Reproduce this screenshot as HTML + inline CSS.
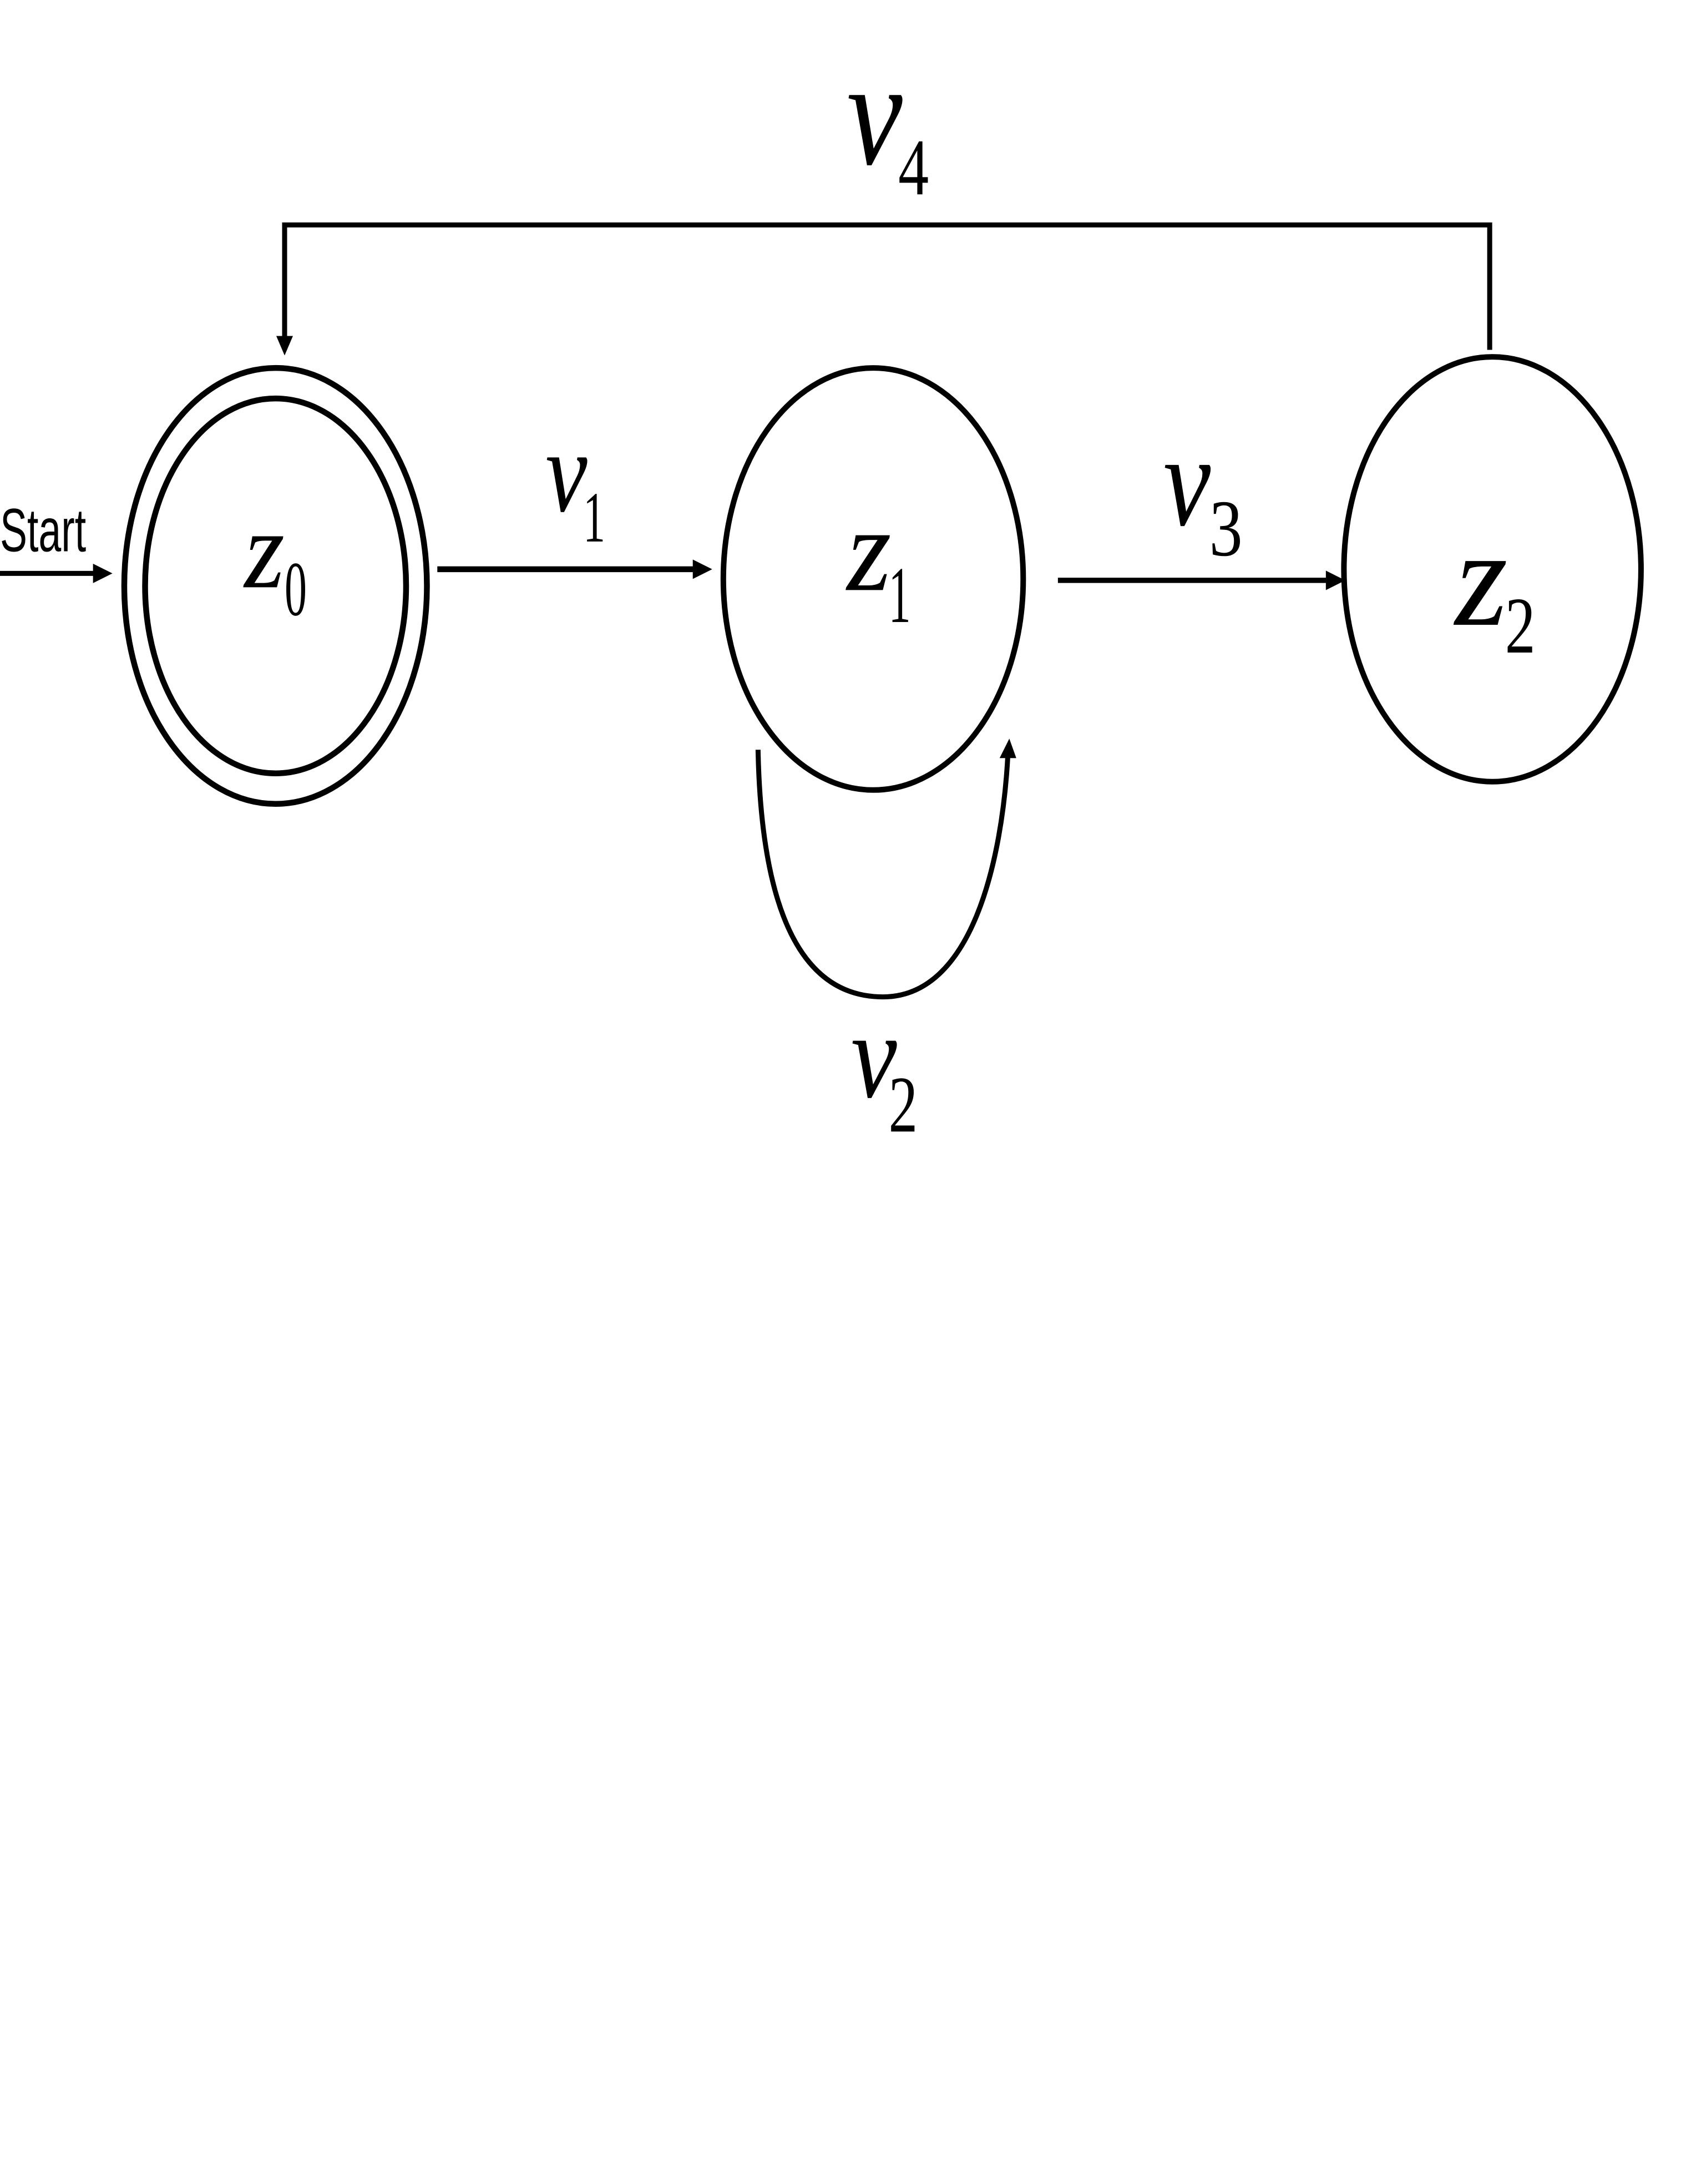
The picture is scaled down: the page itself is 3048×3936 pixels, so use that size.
<!DOCTYPE html>
<html><head><meta charset="utf-8"><style>
html,body{margin:0;padding:0;background:#fff;}
svg{display:block;}
text{font-family:"Liberation Serif",serif;fill:#000;}
.it{font-style:italic;}
</style></head><body>
<svg width="3048" height="3936" viewBox="0 0 1218 1573" preserveAspectRatio="none" xmlns="http://www.w3.org/2000/svg">
<rect width="1218" height="1573" fill="#fff"/>
<g fill="none" stroke="#000">
  <polyline points="1073,252 1073,162 205,162 205,243" stroke-width="3.6"/>
  <ellipse cx="198.5" cy="422" rx="109" ry="157" stroke-width="4.2"/>
  <ellipse cx="198.5" cy="422" rx="94" ry="135" stroke-width="4.2"/>
  <ellipse cx="629" cy="417" rx="108" ry="152" stroke-width="4"/>
  <ellipse cx="1075" cy="410" rx="107" ry="153" stroke-width="4"/>
  <line x1="0" y1="413" x2="70" y2="413" stroke-width="3.6"/>
  <line x1="315" y1="410" x2="502" y2="410" stroke-width="4.2"/>
  <line x1="762" y1="418" x2="958" y2="418" stroke-width="3.8"/>
  <path d="M546,540 C548,640 570,718 636,718 C700,718 722,620 726,543" stroke-width="3.6"/>
</g>
<g fill="#000">
  <polygon points="199,242 211,242 205,256"/>
  <polygon points="67,406 67,420 81,413"/>
  <polygon points="499,403 499,417 513,410"/>
  <polygon points="955,411 955,425 969,418"/>
  <polygon points="720,546 732,546 727,532"/>
</g>
<text x="0" y="397" style="font-family:'Liberation Sans',sans-serif" font-size="44" textLength="62" lengthAdjust="spacingAndGlyphs">Start</text>

<text class="it" x="610" y="118" font-size="108" textLength="40" lengthAdjust="spacingAndGlyphs">v</text>
<text x="647" y="140" font-size="58" textLength="22" lengthAdjust="spacingAndGlyphs">4</text>

<text class="it" x="393" y="368" font-size="84" textLength="30" lengthAdjust="spacingAndGlyphs">v</text>
<text x="420" y="390" font-size="52" textLength="16" lengthAdjust="spacingAndGlyphs">1</text>

<text class="it" x="838" y="378" font-size="94" textLength="34" lengthAdjust="spacingAndGlyphs">v</text>
<text x="871" y="400" font-size="58" textLength="24" lengthAdjust="spacingAndGlyphs">3</text>

<text class="it" x="613" y="790" font-size="88" textLength="33" lengthAdjust="spacingAndGlyphs">v</text>
<text x="640" y="815" font-size="58" textLength="21" lengthAdjust="spacingAndGlyphs">2</text>

<text class="it" x="176" y="423" font-size="80" textLength="29" lengthAdjust="spacingAndGlyphs">z</text>
<text x="205" y="443" font-size="56" textLength="16" lengthAdjust="spacingAndGlyphs">0</text>

<text class="it" x="610" y="425" font-size="86" textLength="32" lengthAdjust="spacingAndGlyphs">z</text>
<text x="640" y="448" font-size="58" textLength="16" lengthAdjust="spacingAndGlyphs">1</text>

<text class="it" x="1048" y="450" font-size="100" textLength="38" lengthAdjust="spacingAndGlyphs">z</text>
<text x="1084" y="470" font-size="58" textLength="22" lengthAdjust="spacingAndGlyphs">2</text>
</svg>
</body></html>
